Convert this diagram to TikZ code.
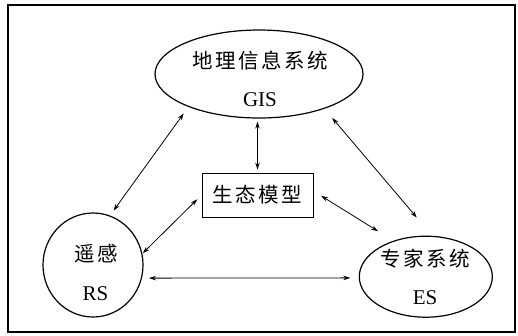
\documentclass[tikz,border=0pt]{standalone}
\usepackage{fontspec}
\setmainfont{Liberation Serif}
\newfontfamily\cjk[LetterSpace=12]{Noto Sans CJK SC}
\usetikzlibrary{shapes.geometric,arrows.meta}

\tikzset{
  sys/.style={ellipse, draw, line width=1.2pt, inner sep=0pt},
  model/.style={rectangle, draw, line width=0.9pt, minimum width=111pt,
    minimum height=44pt, inner sep=0pt, font=\cjk\fontsize{20.5}{20.5}\selectfont},
  cn/.style={anchor=base, inner sep=0pt, font=\cjk\fontsize{20.5}{20.5}\selectfont},
  en/.style={anchor=base, inner sep=0pt, font=\fontsize{21}{21}\selectfont},
  link/.style={{Stealth[length=7pt,width=4.5pt]}-{Stealth[length=7pt,width=4.5pt]},
    line width=0.8pt},
}

\begin{document}
\begin{tikzpicture}[x=1pt,y=-1pt]
\useasboundingbox (0,0) rectangle (518,335);

% outer frame
\draw[line width=1.6pt] (8,5) rectangle (515,332);

% the three systems and the model in the middle
\node[sys, minimum width=208pt, minimum height=88pt] (gis) at (259,74) {};
\node[sys, minimum width=100pt, minimum height=104pt] (rs) at (93,265) {};
\node[sys, minimum width=133pt, minimum height=81pt] (es) at (425.8,276.7) {};
\node[model] (eco) at (257.5,195) {生态模型};

% labels
\node[cn] (gis-cn) at (260.5,68.5) {地理信息系统};
\node[en] (gis-en) at (260,106) {GIS};
\node[cn] (rs-cn) at (96,261.5) {遥感};
\node[en] (rs-en) at (95.5,300) {RS};
\node[cn] (es-cn) at (425,266.5) {专家系统};
\node[en] (es-en) at (425,304) {ES};

% two-way links
\draw[link, shorten <=8pt, shorten >=6pt] (gis.205) -- (rs.71);
\draw[link, line width=1pt, shorten <=3pt, shorten >=3pt] (eco.north) -- (eco.north |- gis.south);
\draw[link, shorten <=12pt, shorten >=24pt] (gis.332) -- (es.81);
\draw[link, shorten <=6pt, shorten >=0.5pt] (eco.west) -- (rs.13);
\draw[link, shorten <=9pt, shorten >=18pt] (eco.4) -- (es.132);
\draw[link, shorten <=7pt, shorten >=8.5pt] (rs.345) -- (es.181);
\end{tikzpicture}
\end{document}
